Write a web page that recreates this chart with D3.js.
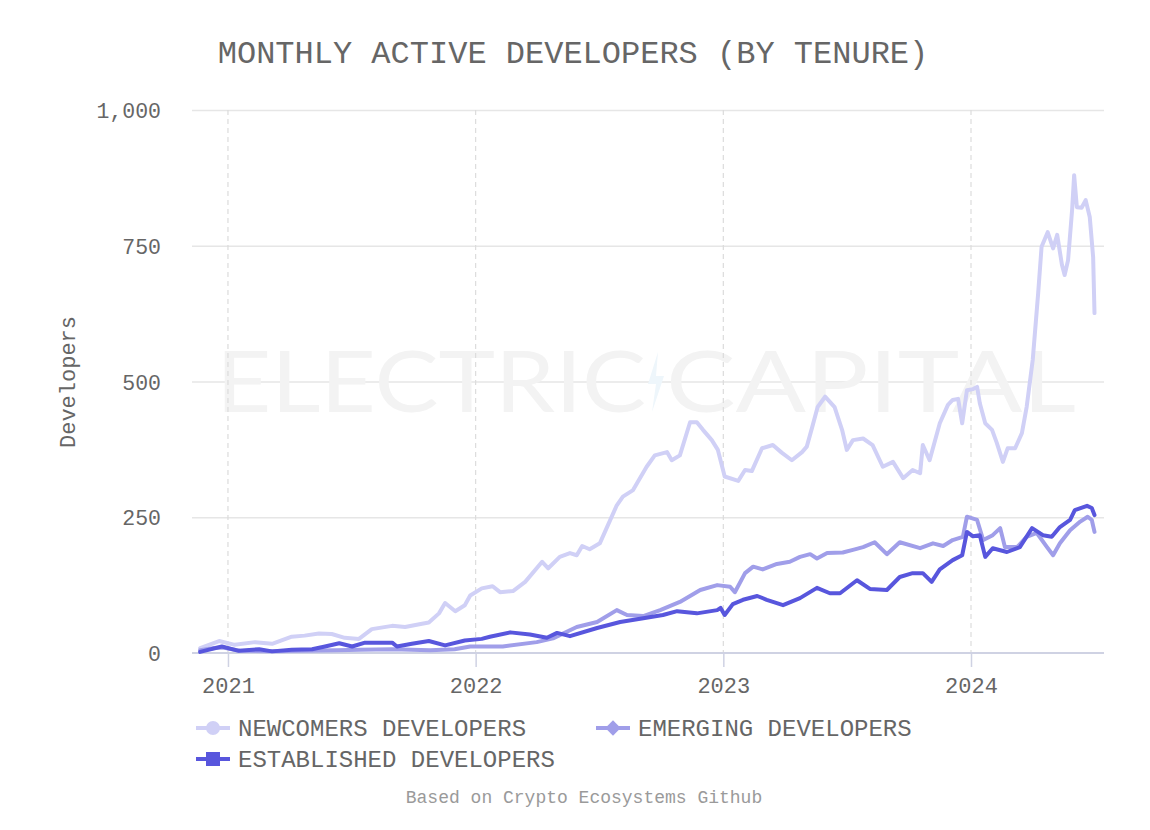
<!DOCTYPE html>
<html><head><meta charset="utf-8">
<script src="https://cdn.jsdelivr.net/npm/d3@7"></script>
<style>body{margin:0;background:#fff;} svg{display:block}</style>
</head><body><svg id="c" width="1150" height="830"></svg>
<script>
const title = "MONTHLY ACTIVE DEVELOPERS (BY TENURE)";
const yLabel = "Developers";
const footer = "Based on Crypto Ecosystems Github";
const yTicks = [0, 250, 500, 750, 1000];
const xTickDates = ["2021-01-01", "2022-01-01", "2023-01-01", "2024-01-01"];
const xDomain = ["2020-11-09", "2024-07-15"];
const seriesNames = ["NEWCOMERS DEVELOPERS", "EMERGING DEVELOPERS", "ESTABLISHED DEVELOPERS"];

const newcomers = [
["2020-11-21",9],["2020-12-19",22],["2021-01-11",15],["2021-02-10",20],["2021-03-07",17],
["2021-04-05",30],["2021-04-24",32],["2021-05-15",36],["2021-06-03",35],["2021-06-22",28],
["2021-07-13",26],["2021-08-01",44],["2021-08-31",50],["2021-09-19",48],["2021-10-14",54],
["2021-10-24",56],["2021-11-08",73],["2021-11-17",92],["2021-12-02",77],["2021-12-16",88],
["2021-12-24",106],["2022-01-10",119],["2022-01-26",123],["2022-02-06",112],["2022-02-25",114],
["2022-03-15",131],["2022-04-09",168],["2022-04-18",156],["2022-05-05",177],["2022-05-20",184],
["2022-05-30",180],["2022-06-07",197],["2022-06-18",191],["2022-07-03",202],["2022-07-13",230],
["2022-07-28",272],["2022-08-06",288],["2022-08-21",300],["2022-08-27",313],["2022-09-10",343],
["2022-09-22",364],["2022-10-10",370],["2022-10-17",355],["2022-10-29",364],["2022-11-13",425],
["2022-11-23",425],["2022-12-02",411],["2022-12-15",392],["2022-12-24",374],["2023-01-03",325],
["2023-01-23",317],["2023-02-02",337],["2023-02-12",335],["2023-02-27",377],["2023-03-15",383],
["2023-03-28",369],["2023-04-12",355],["2023-04-27",370],["2023-05-04",380],["2023-05-12",416],
["2023-05-20",453],["2023-05-31",472],["2023-06-14",453],["2023-06-25",411],["2023-07-02",374],
["2023-07-11",392],["2023-07-26",395],["2023-08-09",383],["2023-08-24",343],["2023-09-08",352],
["2023-09-23",322],["2023-10-07",337],["2023-10-18",331],["2023-10-22",383],["2023-11-01",355],
["2023-11-16",423],["2023-11-28",457],["2023-12-05",466],["2023-12-13",468],["2023-12-19",423],
["2023-12-26",484],["2024-01-04",486],["2024-01-10",490],["2024-01-14",460],["2024-01-22",423],
["2024-02-01",411],["2024-02-08",387],["2024-02-17",352],["2024-02-24",377],["2024-03-06",377],
["2024-03-16",405],["2024-03-23",453],["2024-04-01",540],["2024-04-09",663],["2024-04-14",748],
["2024-04-23",775],["2024-05-01",745],["2024-05-07",770],["2024-05-14",715],["2024-05-18",696],
["2024-05-23",723],["2024-05-29",816],["2024-06-01",880],["2024-06-05",821],["2024-06-12",820],
["2024-06-18",834],["2024-06-24",803],["2024-06-29",729],["2024-07-01",626]
];

const emerging = [
["2020-11-21",5],["2020-12-10",9],["2020-12-25",10],["2021-01-18",4],["2021-03-07",3],
["2021-04-20",4],["2021-06-10",5],["2021-07-15",6],["2021-08-31",7],["2021-10-26",5],
["2021-12-01",7],["2021-12-24",12],["2022-02-10",12],["2022-04-01",20],["2022-04-25",27],
["2022-05-30",48],["2022-06-29",57],["2022-07-28",79],["2022-08-12",70],["2022-09-05",68],
["2022-09-30",79],["2022-10-29",94],["2022-11-28",116],["2022-12-23",125],["2023-01-11",122],
["2023-01-18",112],["2023-02-02",147],["2023-02-14",159],["2023-02-28",154],["2023-03-21",164],
["2023-04-09",168],["2023-04-24",177],["2023-05-09",182],["2023-05-19",174],["2023-06-03",184],
["2023-06-26",185],["2023-07-11",190],["2023-07-26",195],["2023-08-12",204],["2023-08-30",182],
["2023-09-18",204],["2023-10-18",193],["2023-11-06",202],["2023-11-21",197],["2023-12-05",208],
["2023-12-20",214],["2023-12-26",251],["2024-01-10",245],["2024-01-19",208],["2024-02-02",217],
["2024-02-13",230],["2024-02-20",195],["2024-03-09",195],["2024-03-23",214],["2024-04-07",221],
["2024-04-22",195],["2024-05-01",180],["2024-05-11",202],["2024-05-26",226],["2024-06-10",242],
["2024-06-21",251],["2024-06-27",245],["2024-07-01",223]
];

const established = [
["2020-11-21",2],["2020-12-23",12],["2021-01-17",4],["2021-02-16",7],["2021-03-07",3],
["2021-04-05",6],["2021-05-05",7],["2021-05-24",12],["2021-06-14",18],["2021-07-03",12],
["2021-07-22",19],["2021-08-31",19],["2021-09-07",12],["2021-09-29",17],["2021-10-24",22],
["2021-11-17",14],["2021-12-16",23],["2022-01-10",26],["2022-01-22",30],["2022-02-21",38],
["2022-03-22",34],["2022-04-16",28],["2022-05-01",37],["2022-05-20",31],["2022-06-29",46],
["2022-08-02",57],["2022-09-05",64],["2022-10-04",70],["2022-10-25",77],["2022-11-23",73],
["2022-12-23",79],["2022-12-28",83],["2023-01-03",70],["2023-01-15",90],["2023-01-30",98],
["2023-02-20",105],["2023-03-06",98],["2023-03-30",88],["2023-04-24",101],["2023-05-19",120],
["2023-06-07",110],["2023-06-22",110],["2023-07-17",134],["2023-08-05",118],["2023-08-30",116],
["2023-09-18",140],["2023-10-07",147],["2023-10-22",147],["2023-11-04",131],["2023-11-16",154],
["2023-12-05",171],["2023-12-19",180],["2023-12-26",223],["2024-01-04",215],["2024-01-14",217],
["2024-01-22",177],["2024-02-02",193],["2024-02-23",186],["2024-03-13",195],["2024-03-31",230],
["2024-04-16",217],["2024-04-29",214],["2024-05-11",232],["2024-05-26",245],["2024-06-02",263],
["2024-06-20",271],["2024-06-27",267],["2024-07-01",254]
];

const colors = ["#d0d0f6", "#a09ee9", "#5856dd"];
const textColor = "#666666";
const mono = "'Liberation Mono', 'DejaVu Sans Mono', monospace";

const svg = d3.select("#c");
const parse = d3.timeParse("%Y-%m-%d");
const L = 192, R = 1104, T = 110, B = 653;

const x = d3.scaleTime().domain(xDomain.map(parse)).range([L, R]);
const y = d3.scaleLinear().domain([0, 1000]).range([B, T]);

// title
svg.append("text").attr("x", 573).attr("y", 63).attr("text-anchor", "middle")
  .attr("font-family", mono).attr("font-size", 32).attr("fill", textColor)
  .text(title);

// horizontal grid
const yAxis = d3.axisLeft(y).tickValues(yTicks).tickSize(-(R - L)).tickPadding(31)
  .tickFormat(d3.format(","));
const gy = svg.append("g").attr("transform", `translate(${L},0)`).call(yAxis);
gy.select(".domain").remove();
gy.selectAll(".tick line").attr("stroke", "#e6e6e6").attr("stroke-width", 1.5)
  .filter(d => d === 0).attr("stroke", "none");
gy.selectAll(".tick text").attr("font-family", mono).attr("font-size", 21.5)
  .attr("fill", textColor).attr("dy", "0.35em");

// watermark
const wm = svg.append("g").attr("fill", "#f3f3f3");
wm.append("text").attr("x", 216).attr("y", 412).attr("font-family", "Lato, 'Open Sans', sans-serif")
  .attr("font-size", 86).attr("textLength", 430)
  .attr("lengthAdjust", "spacingAndGlyphs").text("ELECTRIC");
wm.append("text").attr("x", 666).attr("y", 412).attr("font-family", "Lato, 'Open Sans', sans-serif")
  .attr("font-size", 86).attr("textLength", 410)
  .attr("lengthAdjust", "spacingAndGlyphs").text("CAPITAL");
wm.append("path").attr("d", "M658,352 L648,384 L656,384 L652,412 L664,376 L656,376 Z").attr("fill", "#eef6fb");

// vertical dashed year lines + x axis
const xDates = xTickDates.map(parse);
svg.append("g").selectAll("line").data(xDates).join("line")
  .attr("x1", d => x(d)).attr("x2", d => x(d)).attr("y1", T).attr("y2", B)
  .attr("stroke", "#dcdcdc").attr("stroke-width", 1.2).attr("stroke-dasharray", "5,4");

const xAxis = d3.axisBottom(x).tickValues(xDates).tickSize(14).tickPadding(10)
  .tickFormat(d3.timeFormat("%Y"));
const gx = svg.append("g").attr("transform", `translate(0,${B})`).call(xAxis);
gx.select(".domain").attr("stroke", "#cfd2e3").attr("stroke-width", 2.2).attr("d", `M${L},0H${R}`);
gx.selectAll(".tick line").attr("stroke", "#cfd2e3").attr("stroke-width", 1.5);
gx.selectAll(".tick text").attr("font-family", mono).attr("font-size", 22).attr("fill", textColor);

// y label
svg.append("text").attr("transform", "translate(75,382) rotate(-90)").attr("text-anchor", "middle")
  .attr("font-family", mono).attr("font-size", 22).attr("fill", textColor).text(yLabel);

// lines
const line = d3.line().x(d => x(parse(d[0]))).y(d => y(d[1])).curve(d3.curveLinear);
[newcomers, emerging, established].forEach((s, i) => {
  svg.append("path").datum(s).attr("d", line).attr("fill", "none")
    .attr("stroke", colors[i]).attr("stroke-width", 4)
    .attr("stroke-linejoin", "round").attr("stroke-linecap", "round");
});

// legend
const legendPos = [[196, 728], [596, 728], [196, 759]];
const lg = svg.append("g");
seriesNames.forEach((name, i) => {
  const [lx, ly] = legendPos[i];
  lg.append("line").attr("x1", lx).attr("x2", lx + 34).attr("y1", ly).attr("y2", ly)
    .attr("stroke", colors[i]).attr("stroke-width", 4);
  const cx = lx + 17;
  if (i === 0) lg.append("circle").attr("cx", cx).attr("cy", ly).attr("r", 7).attr("fill", colors[i]);
  else if (i === 1) lg.append("path").attr("d", d3.symbol(d3.symbolDiamond2, 150)()).attr("transform", `translate(${cx},${ly})`).attr("fill", colors[i]);
  else lg.append("rect").attr("x", cx - 7).attr("y", ly - 7).attr("width", 14).attr("height", 14).attr("fill", colors[i]);
  lg.append("text").attr("x", lx + 42).attr("y", ly).attr("dy", "0.35em")
    .attr("font-family", mono).attr("font-size", 24).attr("fill", textColor).text(name);
});

// footer
svg.append("text").attr("x", 584).attr("y", 803).attr("text-anchor", "middle")
  .attr("font-family", mono).attr("font-size", 18).attr("fill", "#9a9a9a").text(footer);
</script></body></html>
